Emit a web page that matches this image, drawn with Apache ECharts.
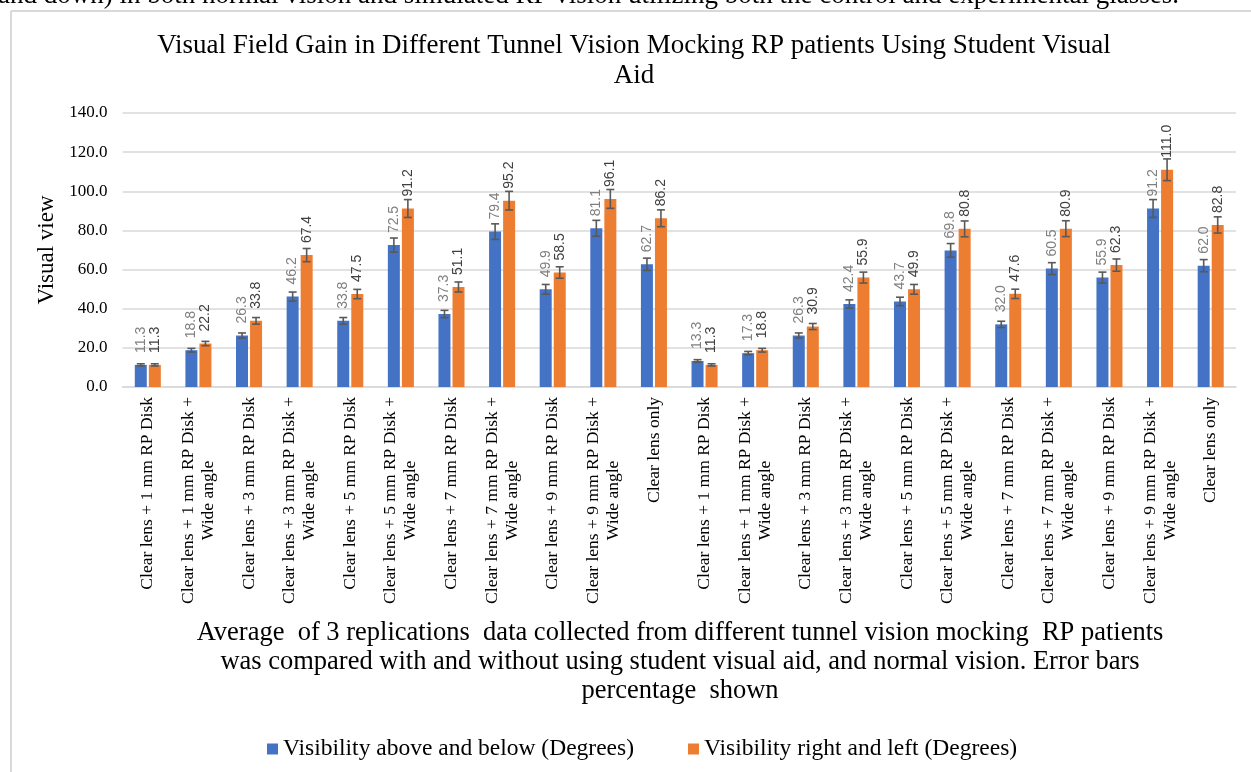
<!DOCTYPE html>
<html>
<head>
<meta charset="utf-8">
<title>Visual Field Gain</title>
<script src="https://cdn.jsdelivr.net/npm/echarts@6/dist/echarts.min.js"></script>
<style>
  html, body { margin: 0; padding: 0; background: #fff; }
  #chart { width: 1251px; height: 772px; }
</style>
</head>
<body>
<div id="chart"></div>
<script>
// categories (x axis), the same ten set-ups twice plus "Clear lens only"
const categories = [
  "Clear lens + 1 mm RP Disk",
  "Clear lens + 1 mm RP Disk +\nWide angle",
  "Clear lens + 3 mm RP Disk",
  "Clear lens + 3 mm RP Disk +\nWide angle",
  "Clear lens + 5 mm RP Disk",
  "Clear lens + 5 mm RP Disk +\nWide angle",
  "Clear lens + 7 mm RP Disk",
  "Clear lens + 7 mm RP Disk +\nWide angle",
  "Clear lens + 9 mm RP Disk",
  "Clear lens + 9 mm RP Disk +\nWide angle",
  "Clear lens only",
  "Clear lens + 1 mm RP Disk",
  "Clear lens + 1 mm RP Disk +\nWide angle",
  "Clear lens + 3 mm RP Disk",
  "Clear lens + 3 mm RP Disk +\nWide angle",
  "Clear lens + 5 mm RP Disk",
  "Clear lens + 5 mm RP Disk +\nWide angle",
  "Clear lens + 7 mm RP Disk",
  "Clear lens + 7 mm RP Disk +\nWide angle",
  "Clear lens + 9 mm RP Disk",
  "Clear lens + 9 mm RP Disk +\nWide angle",
  "Clear lens only"
]

// Visibility above and below (Degrees)
const aboveBelow = [11.3, 18.8, 26.3, 46.2, 33.8, 72.5, 37.3, 79.4, 49.9, 81.1, 62.7,
  13.3, 17.3, 26.3, 42.4, 43.7, 69.8, 32.0, 60.5, 55.9, 91.2, 62.0]

// Visibility right and left (Degrees)
const rightLeft = [11.3, 22.2, 33.8, 67.4, 47.5, 91.2, 51.1, 95.2, 58.5, 96.1, 86.2,
  11.3, 18.8, 30.9, 55.9, 49.9, 80.8, 47.6, 80.9, 62.3, 111.0, 82.8]

// percentage error bars
const errorPct = 5

// y axis ticks
const yMin = 0
const yMax = 140
const yStep = 20

const seriesNames = ["Visibility above and below (Degrees)", "Visibility right and left (Degrees)"]
const colors = ["#4472c4", "#ed7d31"]

const serif = "'Liberation Serif', 'Times New Roman', serif"
const barW = 12
const barOffset = 7 // half of bar width + half gap

// error bar series, drawn on top of the bars
const errorBarSeries = (values, offset) => {
  return {
    type: "custom",
    z: 10,
    silent: true,
    encode: { x: 0, y: 1 },
    data: values.map((v, i) => [i, v]),
    renderItem: (params, api) => {
      let idx = api.value(0)
      let val = api.value(1)
      let err = val * errorPct / 100
      let top = api.coord([idx, val + err])
      let bot = api.coord([idx, val - err])
      let x = top[0] + offset
      let cap = 4
      let style = { stroke: "#595959", lineWidth: 1.6 }
      return {
        type: "group",
        children: [
          { type: "line", shape: { x1: x, y1: top[1], x2: x, y2: bot[1] }, style: style },
          { type: "line", shape: { x1: x - cap, y1: top[1], x2: x + cap, y2: top[1] }, style: style },
          { type: "line", shape: { x1: x - cap, y1: bot[1], x2: x + cap, y2: bot[1] }, style: style }
        ]
      }
    }
  }
}

const barSeries = (name, values, color, labelColor) => {
  return {
    name: name,
    type: "bar",
    data: values,
    barWidth: barW,
    barGap: "17%",
    itemStyle: { color: color },
    label: {
      show: true,
      position: "top",
      rotate: 90,
      align: "left",
      verticalAlign: "middle",
      distance: 12,
      color: labelColor,
      fontSize: 14,
      fontFamily: "'Liberation Sans', Arial, sans-serif",
      formatter: (p) => p.value.toFixed(1)
    }
  }
}

const chart = echarts.init(document.getElementById("chart"), null, { renderer: "canvas" })

const option = {
  backgroundColor: "#fff",
  animation: false,
  grid: { left: 122.5, right: 15, top: 113, bottom: 385 },
  legend: {
    data: seriesNames,
    top: 732,
    left: 262,
    itemWidth: 11,
    itemHeight: 11,
    itemGap: 54,
    icon: "rect",
    textStyle: { fontFamily: serif, fontSize: 23.5, color: "#000" }
  },
  xAxis: {
    type: "category",
    data: categories,
    axisTick: { show: false },
    axisLine: { lineStyle: { color: "#d9d9d9", width: 1.5 } },
    axisLabel: {
      interval: 0,
      rotate: 90,
      margin: 10,
      color: "#000",
      fontFamily: serif,
      fontSize: 17.5,
      lineHeight: 20,
      formatter: (v) => v.split("\n").map((s) => "{c|" + s + "}").join("\n"),
      rich: {
        c: { align: "center", fontFamily: serif, fontSize: 17.5, lineHeight: 20, color: "#000" }
      }
    }
  },
  yAxis: {
    type: "value",
    min: yMin,
    max: yMax,
    interval: yStep,
    name: "Visual view",
    nameLocation: "middle",
    nameRotate: 90,
    nameGap: 60,
    nameTextStyle: { fontFamily: serif, fontSize: 23, color: "#000" },
    axisLine: { show: false },
    axisTick: { show: false },
    axisLabel: {
      margin: 15,
      color: "#000",
      fontFamily: serif,
      fontSize: 17,
      formatter: (v) => v.toFixed(1)
    },
    splitLine: { lineStyle: { color: "#d9d9d9", width: 1.5 } }
  },
  graphic: [
    // cut-off sentence of the page above the chart
    {
      type: "text", x: -2, y: -4, silent: true,
      style: {
        text: "and down) in both normal vision and simulated RP vision utilizing both the control and experimental glasses.",
        font: "27px " + serif, fill: "#000", verticalAlign: "middle"
      }
    },
    // chart frame
    { type: "line", silent: true, shape: { x1: 11, y1: 11, x2: 1251, y2: 11 }, style: { stroke: "#d9d9d9", lineWidth: 2 } },
    { type: "line", silent: true, shape: { x1: 11, y1: 11, x2: 11, y2: 772 }, style: { stroke: "#d9d9d9", lineWidth: 2 } },
    // title
    {
      type: "text", x: 634, y: 31, silent: true,
      style: {
        text: "Visual Field Gain in Different Tunnel Vision Mocking RP patients Using Student Visual\nAid",
        font: "27px " + serif, fill: "#000", align: "center", lineHeight: 30
      }
    },
    // caption under the axis labels
    {
      type: "text", x: 680, y: 619, silent: true,
      style: {
        text: "Average  of 3 replications  data collected from different tunnel vision mocking  RP patients\nwas compared with and without using student visual aid, and normal vision. Error bars\npercentage  shown",
        font: "26.5px " + serif, fill: "#000", align: "center", lineHeight: 29
      }
    }
  ],
  series: [
    barSeries(seriesNames[0], aboveBelow, colors[0], "#7f7f7f"),
    barSeries(seriesNames[1], rightLeft, colors[1], "#404040"),
    errorBarSeries(aboveBelow, -barOffset),
    errorBarSeries(rightLeft, barOffset)
  ]
}

chart.setOption(option)
</script>
</body>
</html>
